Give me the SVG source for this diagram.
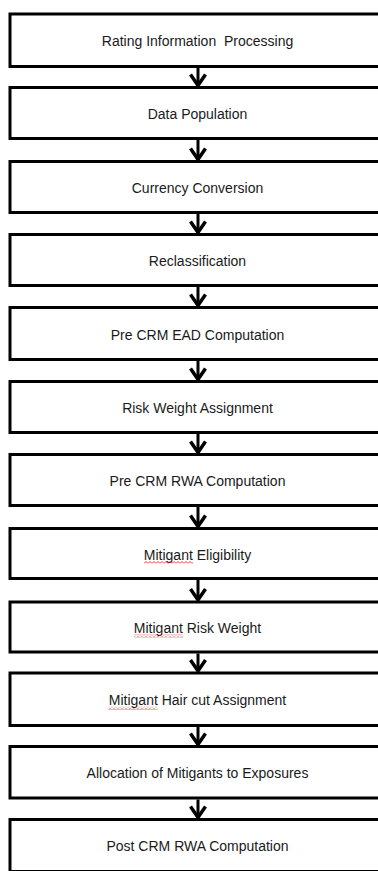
<svg xmlns="http://www.w3.org/2000/svg" width="378" height="871" viewBox="0 0 378 871">
<style>
.box{fill:#fff;stroke:#000;stroke-width:3}
.lbl{font-family:"Liberation Sans",Arial,sans-serif;font-size:14px;fill:#1a1a1a;text-anchor:middle}
.conn{stroke:#000;stroke-width:3;fill:none;marker-end:url(#chev)}
.sq{fill:url(#wavy)}
</style>
<defs>
<marker id="chev" markerUnits="userSpaceOnUse" viewBox="-14 -10 16 20" markerWidth="16" markerHeight="20" refX="0" refY="0" orient="auto" overflow="visible">
<path d="M-11,-7.5 L0,0 L-11,7.5" fill="none" stroke="#000" stroke-width="3.5" stroke-linejoin="miter"/>
</marker>
<pattern id="wavy" patternUnits="userSpaceOnUse" width="4" height="3">
<path d="M0,2.5 L2,0.5 L4,2.5" fill="none" stroke="#e02020" stroke-width="0.9"/>
</pattern>
</defs>
<rect width="378" height="871" fill="#fff"/>
<g id="connectors">
<line class="conn" x1="198" y1="68" x2="198" y2="85.5"/>
<line class="conn" x1="198" y1="140" x2="198" y2="159.5"/>
<line class="conn" x1="198" y1="214" x2="198" y2="232.5"/>
<line class="conn" x1="198" y1="287" x2="198" y2="305.5"/>
<line class="conn" x1="198" y1="361" x2="198" y2="379.5"/>
<line class="conn" x1="198" y1="434" x2="198" y2="452.5"/>
<line class="conn" x1="198" y1="507" x2="198" y2="526.5"/>
<line class="conn" x1="198" y1="580" x2="198" y2="600"/>
<line class="conn" x1="198" y1="653.5" x2="198" y2="671"/>
<line class="conn" x1="198" y1="727" x2="198" y2="744.5"/>
<line class="conn" x1="198" y1="799.5" x2="198" y2="817.5"/>
</g>
<g id="n1"><rect class="box" x="10" y="14" width="375" height="52.5"/><text class="lbl" x="197.5" y="46.3" xml:space="preserve">Rating Information  Processing</text></g>
<g id="n2"><rect class="box" x="10" y="87.5" width="375" height="51"/><text class="lbl" x="197.5" y="119">Data Population</text></g>
<g id="n3"><rect class="box" x="10" y="161.5" width="375" height="51"/><text class="lbl" x="197.5" y="193">Currency Conversion</text></g>
<g id="n4"><rect class="box" x="10" y="234.5" width="375" height="51"/><text class="lbl" x="197.5" y="266">Reclassification</text></g>
<g id="n5"><rect class="box" x="10" y="307.5" width="375" height="52"/><text class="lbl" x="197.5" y="339.5">Pre CRM EAD Computation</text></g>
<g id="n6"><rect class="box" x="10" y="381.5" width="375" height="51"/><text class="lbl" x="197.5" y="413">Risk Weight Assignment</text></g>
<g id="n7"><rect class="box" x="10" y="454.5" width="375" height="51"/><text class="lbl" x="197.5" y="486">Pre CRM RWA Computation</text></g>
<g id="n8"><rect class="box" x="10" y="528.5" width="375" height="50"/><text class="lbl" x="197.5" y="559.5">Mitigant Eligibility</text><rect class="sq" x="144" y="561" width="49" height="3"/></g>
<g id="n9"><rect class="box" x="10" y="602" width="375" height="50"/><text class="lbl" x="197.5" y="633">Mitigant Risk Weight</text><rect class="sq" x="134" y="634.5" width="49" height="3"/></g>
<g id="n10"><rect class="box" x="10" y="673" width="375" height="52.5"/><text class="lbl" x="197.5" y="705.3">Mitigant Hair cut Assignment</text><rect class="sq" x="108.5" y="706.8" width="49" height="3"/></g>
<g id="n11"><rect class="box" x="10" y="746.5" width="375" height="51.5"/><text class="lbl" x="197.5" y="778.3">Allocation of Mitigants to Exposures</text></g>
<g id="n12"><rect class="box" x="10" y="819.5" width="375" height="52"/><text class="lbl" x="197.5" y="851">Post CRM RWA Computation</text></g>
</svg>
